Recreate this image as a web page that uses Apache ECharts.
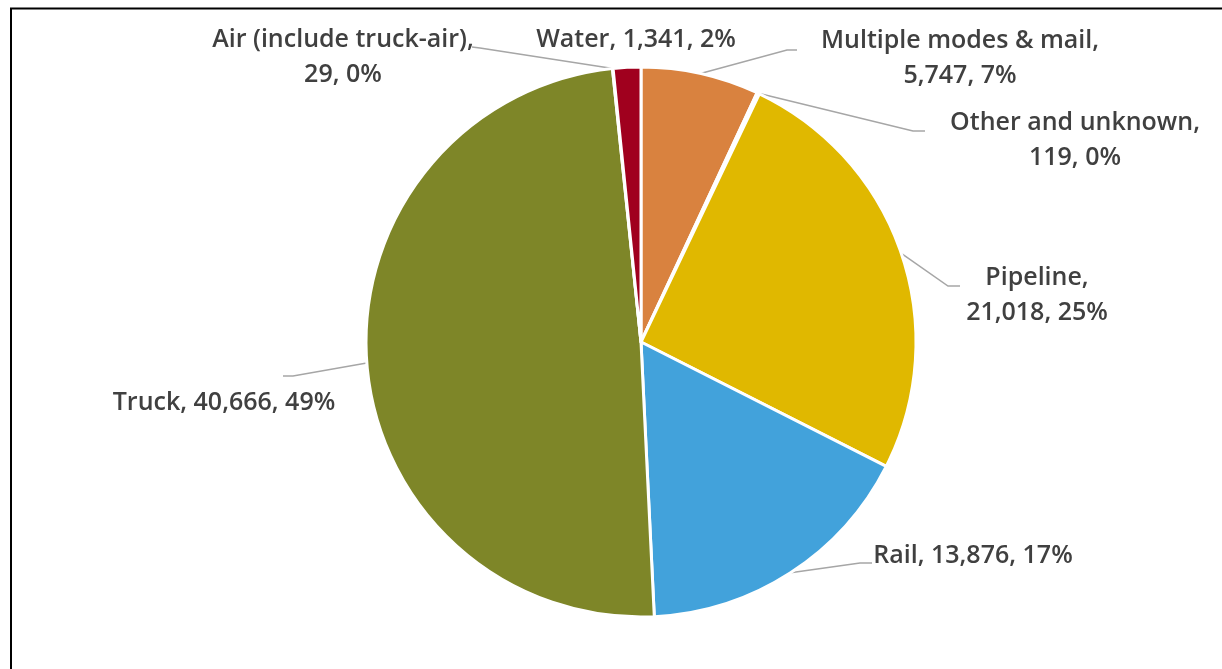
<!DOCTYPE html>
<html>
<head>
<meta charset="utf-8">
<title>Freight by mode</title>
<script src="https://cdn.jsdelivr.net/npm/echarts@6/dist/echarts.min.js"></script>
<style>
  html, body { margin: 0; padding: 0; background: #fff; }
  #chart { width: 1222px; height: 669px; }
</style>
</head>
<body>
<div id="chart"></div>
<script>
// Shipments by mode, clockwise from 12 o'clock
const modes = [
  'Multiple modes & mail',
  'Other and unknown',
  'Pipeline',
  'Rail',
  'Truck',
  'Air (include truck-air)',
  'Water'
];
const values = [5747, 119, 21018, 13876, 40666, 29, 1341];
const colors = ['#D9823F', '#8C8C8C', '#E0B800', '#42A2DB', '#7E8628', '#2F4F8F', '#A0001E'];

// Label placement: text block centre, leader-line elbow and end, and whether
// the value goes on a second line.
const labelPlacement = [
  { cx: 960,  cy: 58,  elbow: [787, 50],  end: [797, 50],  wrap: true },
  { cx: 1075, cy: 140, elbow: [913, 131], end: [925, 131], wrap: true },
  { cx: 1037, cy: 295, elbow: [948, 286], end: [960, 286], wrap: true },
  { cx: 973,  cy: 556, elbow: [860, 563], end: [872, 563], wrap: false },
  { cx: 224,  cy: 403, elbow: [293, 376], end: [283, 376], wrap: false },
  { cx: 343,  cy: 57,  elbow: [480, 48],  end: [472, 47],  wrap: true },
  { cx: 636,  cy: 40,  elbow: null,       end: null,       wrap: false }
];

const fmtNum = v => v.toLocaleString('en-US');

const chart = echarts.init(document.getElementById('chart'), null, { renderer: 'canvas' });

chart.setOption({
  animation: false,
  backgroundColor: '#ffffff',
  graphic: [{
    type: 'polyline',
    shape: { points: [[11, 669], [11, 8.5], [1222, 8.5]] },
    style: { stroke: '#000', lineWidth: 2, fill: null },
    silent: true
  }],
  series: [{
    type: 'pie',
    center: [641, 342],
    radius: [0, 275],
    startAngle: 90,
    clockwise: true,
    percentPrecision: 0,
    avoidLabelOverlap: false,
    itemStyle: { borderColor: '#ffffff', borderWidth: 3 },
    label: {
      show: true,
      position: 'outside',
      fontFamily: '"Open Sans", "Noto Sans", sans-serif',
      fontWeight: 600,
      fontSize: 25,
      lineHeight: 35,
      color: '#404040',
      align: 'center',
      formatter: p => {
        const lp = labelPlacement[p.dataIndex];
        const sep = lp.wrap ? ',\n' : ', ';
        return p.name + sep + fmtNum(p.value) + ', ' + Math.round(p.percent) + '%';
      }
    },
    labelLine: {
      show: true,
      length: 20,
      length2: 10,
      lineStyle: { color: '#A6A6A6', width: 1.5 }
    },
    labelLayout: params => {
      const lp = labelPlacement[params.dataIndex];
      const out = {
        x: lp.cx,
        y: lp.cy,
        align: 'center',
        verticalAlign: 'middle'
      };
      if (lp.elbow && params.labelLinePoints) {
        out.labelLinePoints = [params.labelLinePoints[0], lp.elbow, lp.end];
      }
      return out;
    },
    data: modes.map((m, i) => ({
      name: m,
      value: values[i],
      itemStyle: { color: colors[i] },
      labelLine: { show: labelPlacement[i].elbow !== null }
    }))
  }]
});
</script>
</body>
</html>
